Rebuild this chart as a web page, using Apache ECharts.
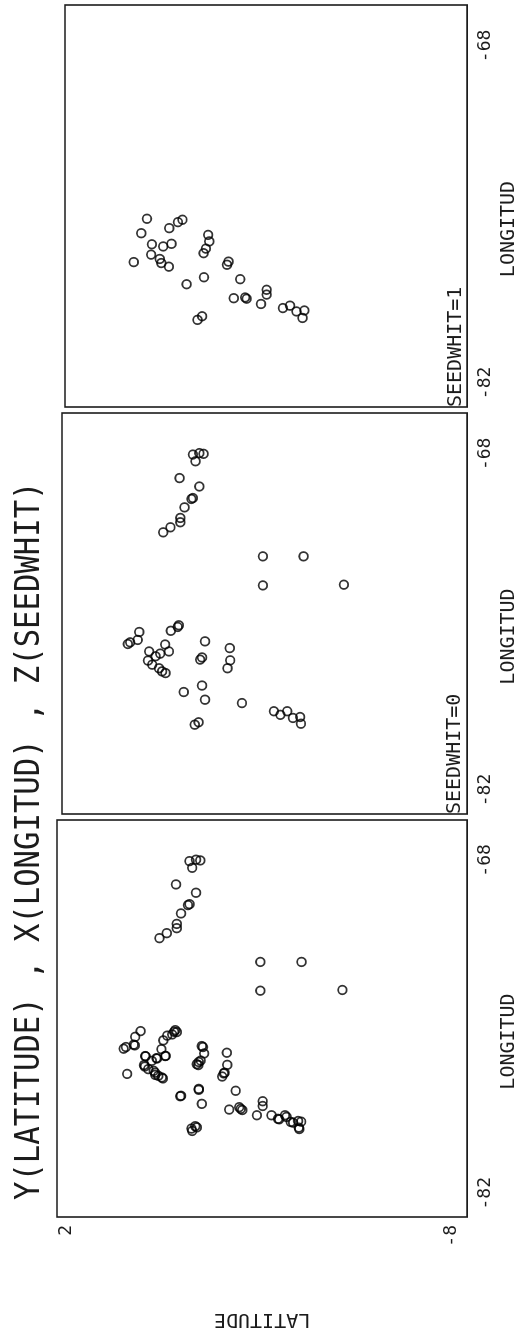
<!DOCTYPE html>
<html><head><meta charset="utf-8">
<script src="https://cdn.jsdelivr.net/npm/echarts@6/dist/echarts.min.js"></script>
<style>
html,body{margin:0;padding:0;background:#fff;overflow:hidden;width:524px;height:1335px}
#wrap{position:absolute;left:0;top:0;width:1335px;height:524px;transform-origin:0 0;transform:translate(0px,1335px) rotate(-90deg);background:#fff}
</style>
</head><body><div id="wrap"></div>
<script>
// ---- data ----
const TITLE = 'Y(LATITUDE) , X(LONGITUD) , Z(SEEDWHIT)';
const X_NAME = 'LONGITUD';
const Y_NAME = 'LATITUDE';
const X_TICKS = [-82, -68];
const Y_TICKS = [-8, 2];
const PANEL_LABELS = ['', 'SEEDWHIT=0', 'SEEDWHIT=1'];

// SEEDWHIT = 0
const LON_SEED0 = [-68.03,-67.97,-68.00,-68.31,-69.01,-69.36,-69.84,-69.88,-70.23,-70.67,-70.85,-71.06,-71.27,
  -72.27,-72.27,-73.48,-73.45,
  -75.14,-75.21,-75.37,-75.42,-75.75,-75.92,-75.85,-75.94,-76.23,-76.32,-76.43,-76.23,-76.61,-76.78,-76.93,-77.13,-77.06,
  -75.81,-76.48,-76.57,-76.09,-76.60,-76.93,-77.65,-77.92,-78.24,-78.38,
  -78.72,-78.87,-78.72,-79.00,-78.96,-79.24,-79.28,-79.18];
const LAT_SEED0 = [-1.19,-1.36,-1.47,-1.26,-0.84,-1.36,-1.19,-1.15,-0.97,-0.86,-0.86,-0.60,-0.41,
  -3.03,-4.10,-3.03,-5.16,
  -0.82,-0.79,-0.61,0.22,0.26,0.52,0.46,-0.46,-0.56,-0.33,-0.21,-0.04,-0.01,-0.12,-0.30,-0.47,-0.38,
  -1.51,-1.43,-1.38,-2.16,-2.17,-2.10,-1.43,-0.95,-1.51,-2.48,
  -3.32,-3.49,-3.67,-3.82,-4.01,-4.03,-1.24,-1.34];

// SEEDWHIT = 1
const LON_SEED1 = [-75.18,-75.78,-76.98,-76.24,-76.67,-76.85,-77.02,-77.17,-76.33,-76.22,-75.57,-75.32,-75.22,
  -75.85,-76.12,-76.42,-76.61,-77.61,-77.90,-76.96,-77.09,-77.69,-78.48,-78.45,-78.50,
  -78.13,-78.33,-78.72,-78.89,-78.79,-79.03,-78.99,-79.30,-79.38,-79.23];
const LAT_SEED1 = [0.08,0.23,0.43,-0.05,-0.03,-0.26,-0.30,-0.50,-0.35,-0.57,-0.51,-0.74,-0.86,
  -1.54,-1.57,-1.48,-1.42,-1.43,-0.97,-2.08,-2.04,-2.39,-2.22,-2.52,-2.56,
  -3.09,-3.09,-2.94,-3.52,-3.71,-3.88,-4.09,-4.04,-1.26,-1.38];

// ---- layout / style ----
const FONT = '"DejaVu Sans Mono", "Liberation Mono", monospace';
const INK = '#1c1c1c';
const GRIDS = [
  {left: 118, top: 57, width: 397, height: 412},
  {left: 521, top: 62, width: 401, height: 411},
  {left: 928, top: 65, width: 402, height: 409}
];
const X_MIN = -83, X_MAX = -66.3, Y_MIN = -8.4, Y_MAX = 2.25;

const zip = (a, b) => a.map((v, i) => [v, b[i]]);
const pts0 = zip(LON_SEED0, LAT_SEED0);
const pts1 = zip(LON_SEED1, LAT_SEED1);
const panelData = [[pts0, pts1], [pts0], [pts1]];

const chart = echarts.init(document.getElementById('wrap'), null, {renderer: 'canvas'});

const grid = GRIDS.map(g => Object.assign({show: true, borderColor: INK, borderWidth: 1.6, backgroundColor: 'transparent'}, g));

const xAxis = GRIDS.map((g, i) => ({
  type: 'value', gridIndex: i, min: X_MIN, max: X_MAX,
  name: X_NAME, nameLocation: 'middle', nameGap: 27,
  nameTextStyle: {fontFamily: FONT, fontSize: 20, color: INK, padding: [0, 46, 0, 0]},
  axisLine: {show: false}, axisTick: {show: false}, splitLine: {show: false},
  axisLabel: {customValues: X_TICKS, fontFamily: FONT, fontSize: 18, color: INK, margin: 9}
}));

const yAxis = GRIDS.map((g, i) => ({
  type: 'value', gridIndex: i, min: Y_MIN, max: Y_MAX,
  name: i === 0 ? Y_NAME : '', nameLocation: 'middle', nameGap: 92,
  nameTextStyle: {fontFamily: FONT, fontSize: 20, color: INK},
  axisLine: {show: false}, axisTick: {show: false}, splitLine: {show: false},
  axisLabel: {show: i === 0, customValues: Y_TICKS, fontFamily: FONT, fontSize: 18, color: INK, margin: 8}
}));

const series = [];
panelData.forEach((groups, i) => {
  groups.forEach(d => series.push({
    type: 'scatter', xAxisIndex: i, yAxisIndex: i, data: d,
    symbol: 'circle', symbolSize: 8.6,
    itemStyle: {color: 'transparent', borderColor: '#000', borderWidth: 1.8},
    silent: true, animation: false
  }));
});

const graphic = [{
  type: 'text', x: 135, y: 30, scaleX: 0.9,
  style: {text: TITLE, font: '34px ' + FONT, fill: INK, textAlign: 'left', textVerticalAlign: 'middle'}
}];
GRIDS.forEach((g, i) => {
  if (!PANEL_LABELS[i]) return;
  graphic.push({
    type: 'text', x: g.left, y: g.top + g.height - 8,
    style: {text: PANEL_LABELS[i], font: '20px ' + FONT, fill: INK, textAlign: 'left', textVerticalAlign: 'bottom'}
  });
});

chart.setOption({
  backgroundColor: '#fff',
  animation: false,
  grid, xAxis, yAxis, series, graphic
});
</script>
</body></html>
